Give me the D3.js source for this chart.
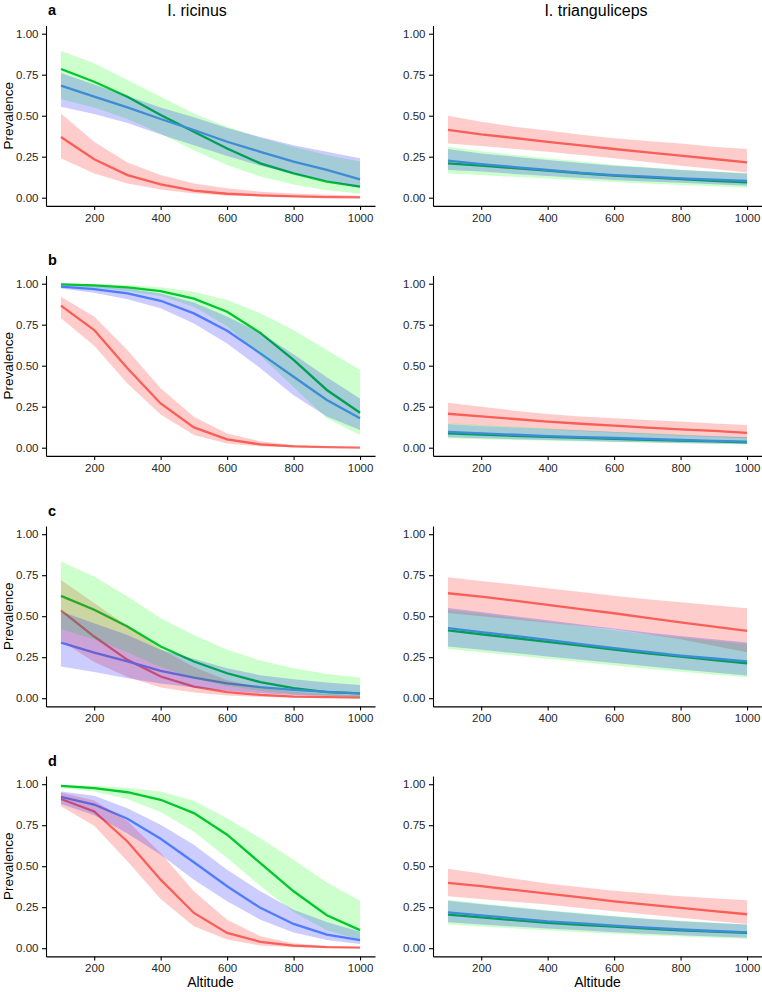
<!DOCTYPE html>
<meta charset="utf-8">
<title>Prevalence by altitude</title>
<style>

body {
  margin: 0;
  background: #fff;
}

text {
  font-family: "Liberation Sans", Arial, sans-serif;
}

.axis path,
.axis line {
  stroke: #000;
  stroke-width: 1.1px;
}

.axis text {
  fill: #262626;
  font-size: 11.5px;
}

</style>
<body>
  <script src="https://d3js.org/d3.v7.min.js"></script>
  <script>

  // ---- data ----
  const altitude = [100, 200, 300, 400, 500, 600, 700, 800, 900, 1000];
  const yTicks = [0, 0.25, 0.5, 0.75, 1];
  const xTicks = [200, 400, 600, 800, 1000];
  const rowLabels = ["a", "b", "c", "d"];
  const species = ["I. ricinus", "I. trianguliceps"];

  // panel a, I. ricinus
  const aRicRedFit = [0.37, 0.234, 0.138, 0.081, 0.043, 0.024, 0.014, 0.008, 0.004, 0.002];
  const aRicRedLo = [0.24, 0.148, 0.087, 0.05, 0.026, 0.014, 0.008, 0.004, 0.002, 0.001];
  const aRicRedHi = [0.514, 0.341, 0.215, 0.138, 0.087, 0.057, 0.037, 0.026, 0.018, 0.012];
  const aRicGreenFit = [0.785, 0.707, 0.616, 0.504, 0.402, 0.30, 0.209, 0.148, 0.098, 0.067];
  const aRicGreenLo = [0.60, 0.55, 0.48, 0.39, 0.29, 0.20, 0.13, 0.08, 0.045, 0.026];
  const aRicGreenHi = [0.896, 0.82, 0.717, 0.616, 0.514, 0.433, 0.365, 0.31, 0.26, 0.22];
  const aRicBlueFit = [0.683, 0.616, 0.551, 0.48, 0.413, 0.341, 0.28, 0.22, 0.169, 0.112];
  const aRicBlueLo = [0.555, 0.51, 0.455, 0.385, 0.32, 0.255, 0.195, 0.145, 0.10, 0.06];
  const aRicBlueHi = [0.76, 0.69, 0.62, 0.55, 0.49, 0.425, 0.37, 0.32, 0.28, 0.24];

  // panel a, I. trianguliceps
  const aTriRedFit = [0.413, 0.386, 0.364, 0.341, 0.319, 0.297, 0.276, 0.256, 0.236, 0.215];
  const aTriRedLo = [0.331, 0.315, 0.297, 0.28, 0.26, 0.24, 0.217, 0.195, 0.175, 0.154];
  const aTriRedHi = [0.50, 0.463, 0.433, 0.409, 0.384, 0.362, 0.345, 0.331, 0.311, 0.297];
  const aTriGreenFit = [0.209, 0.195, 0.18, 0.165, 0.149, 0.134, 0.124, 0.114, 0.103, 0.093];
  const aTriGreenLo = [0.148, 0.138, 0.127, 0.117, 0.106, 0.096, 0.087, 0.078, 0.07, 0.061];
  const aTriGreenHi = [0.31, 0.283, 0.26, 0.24, 0.22, 0.2, 0.185, 0.172, 0.16, 0.15];
  const aTriBlueFit = [0.226, 0.205, 0.187, 0.169, 0.152, 0.138, 0.128, 0.118, 0.11, 0.102];
  const aTriBlueLo = [0.169, 0.159, 0.145, 0.132, 0.12, 0.108, 0.099, 0.091, 0.082, 0.073];
  const aTriBlueHi = [0.297, 0.27, 0.25, 0.23, 0.212, 0.195, 0.182, 0.169, 0.158, 0.148];

  // panel b, I. ricinus
  const bRicRedFit = [0.866, 0.717, 0.484, 0.27, 0.124, 0.051, 0.02, 0.008, 0.003, 0.001];
  const bRicRedLo = [0.79, 0.622, 0.392, 0.203, 0.077, 0.026, 0.008, 0.002, 0.001, 0];
  const bRicRedHi = [0.92, 0.80, 0.596, 0.362, 0.189, 0.087, 0.039, 0.016, 0.007, 0.003];
  const bRicGreenFit = [0.996, 0.99, 0.978, 0.955, 0.909, 0.829, 0.70, 0.535, 0.352, 0.213];
  const bRicGreenLo = [0.99, 0.975, 0.955, 0.925, 0.86, 0.74, 0.56, 0.37, 0.18, 0.077];
  const bRicGreenHi = [0.999, 0.997, 0.992, 0.978, 0.951, 0.90, 0.82, 0.717, 0.596, 0.474];
  const bRicBlueFit = [0.982, 0.967, 0.941, 0.896, 0.819, 0.713, 0.575, 0.433, 0.291, 0.179];
  const bRicBlueLo = [0.97, 0.945, 0.905, 0.85, 0.758, 0.636, 0.484, 0.32, 0.19, 0.108];
  const bRicBlueHi = [0.99, 0.985, 0.97, 0.94, 0.885, 0.80, 0.70, 0.57, 0.43, 0.30];

  // panel b, I. trianguliceps
  const bTriRedFit = [0.207, 0.191, 0.175, 0.159, 0.146, 0.134, 0.122, 0.112, 0.102, 0.091];
  const bTriRedLo = [0.148, 0.134, 0.123, 0.112, 0.102, 0.093, 0.084, 0.075, 0.066, 0.057];
  const bTriRedHi = [0.274, 0.25, 0.226, 0.205, 0.191, 0.179, 0.169, 0.159, 0.148, 0.138];
  const bTriGreenFit = [0.087, 0.08, 0.073, 0.066, 0.06, 0.054, 0.048, 0.043, 0.038, 0.033];
  const bTriGreenLo = [0.058, 0.052, 0.047, 0.042, 0.038, 0.034, 0.03, 0.026, 0.023, 0.02];
  const bTriGreenHi = [0.15, 0.138, 0.127, 0.117, 0.107, 0.098, 0.089, 0.08, 0.072, 0.065];
  const bTriBlueFit = [0.096, 0.087, 0.079, 0.071, 0.065, 0.059, 0.053, 0.047, 0.042, 0.037];
  const bTriBlueLo = [0.063, 0.057, 0.052, 0.047, 0.042, 0.037, 0.033, 0.029, 0.025, 0.022];
  const bTriBlueHi = [0.144, 0.132, 0.123, 0.114, 0.105, 0.096, 0.086, 0.077, 0.07, 0.063];

  // panel c, I. ricinus
  const cRicRedFit = [0.535, 0.376, 0.234, 0.132, 0.071, 0.037, 0.02, 0.01, 0.006, 0.004];
  const cRicRedLo = [0.35, 0.22, 0.13, 0.065, 0.035, 0.017, 0.008, 0.004, 0.002, 0.001];
  const cRicRedHi = [0.72, 0.58, 0.44, 0.30, 0.19, 0.11, 0.065, 0.04, 0.025, 0.018];
  const cRicGreenFit = [0.624, 0.539, 0.437, 0.315, 0.224, 0.152, 0.098, 0.061, 0.037, 0.03];
  const cRicGreenLo = [0.42, 0.36, 0.28, 0.19, 0.12, 0.075, 0.045, 0.025, 0.015, 0.008];
  const cRicGreenHi = [0.833, 0.742, 0.62, 0.488, 0.386, 0.295, 0.23, 0.183, 0.148, 0.126];
  const cRicBlueFit = [0.339, 0.278, 0.224, 0.167, 0.126, 0.091, 0.067, 0.051, 0.039, 0.03];
  const cRicBlueLo = [0.193, 0.16, 0.122, 0.09, 0.065, 0.045, 0.03, 0.02, 0.015, 0.01];
  const cRicBlueHi = [0.528, 0.457, 0.386, 0.295, 0.24, 0.183, 0.14, 0.115, 0.095, 0.081];

  // panel c, I. trianguliceps
  const cTriRedFit = [0.64, 0.62, 0.595, 0.569, 0.543, 0.518, 0.49, 0.463, 0.437, 0.41];
  const cTriRedLo = [0.52, 0.50, 0.48, 0.46, 0.44, 0.42, 0.39, 0.36, 0.32, 0.28];
  const cTriRedHi = [0.738, 0.715, 0.693, 0.671, 0.647, 0.624, 0.604, 0.585, 0.567, 0.549];
  const cTriGreenFit = [0.413, 0.39, 0.367, 0.344, 0.32, 0.297, 0.274, 0.253, 0.233, 0.213];
  const cTriGreenLo = [0.30, 0.28, 0.26, 0.24, 0.22, 0.20, 0.18, 0.162, 0.145, 0.128];
  const cTriGreenHi = [0.54, 0.515, 0.49, 0.465, 0.44, 0.415, 0.39, 0.37, 0.35, 0.33];
  const cTriBlueFit = [0.427, 0.403, 0.38, 0.356, 0.33, 0.305, 0.282, 0.26, 0.242, 0.224];
  const cTriBlueLo = [0.315, 0.295, 0.275, 0.255, 0.235, 0.215, 0.195, 0.175, 0.156, 0.138];
  const cTriBlueHi = [0.55, 0.525, 0.50, 0.475, 0.45, 0.425, 0.40, 0.38, 0.36, 0.34];

  // panel d, I. ricinus
  const dRicRedFit = [0.91, 0.834, 0.651, 0.418, 0.215, 0.093, 0.039, 0.016, 0.007, 0.003];
  const dRicRedLo = [0.866, 0.746, 0.53, 0.30, 0.134, 0.053, 0.017, 0.006, 0.002, 0.001];
  const dRicRedHi = [0.95, 0.90, 0.775, 0.58, 0.347, 0.174, 0.073, 0.03, 0.013, 0.006];
  const dRicGreenFit = [0.99, 0.976, 0.951, 0.905, 0.824, 0.692, 0.519, 0.347, 0.201, 0.11];
  const dRicGreenLo = [0.975, 0.955, 0.91, 0.83, 0.71, 0.55, 0.38, 0.22, 0.11, 0.05];
  const dRicGreenHi = [0.995, 0.99, 0.978, 0.955, 0.899, 0.793, 0.671, 0.54, 0.40, 0.29];
  const dRicBlueFit = [0.923, 0.876, 0.789, 0.667, 0.524, 0.378, 0.246, 0.148, 0.083, 0.049];
  const dRicBlueLo = [0.88, 0.81, 0.70, 0.57, 0.418, 0.286, 0.174, 0.095, 0.05, 0.025];
  const dRicBlueHi = [0.955, 0.93, 0.854, 0.753, 0.631, 0.479, 0.347, 0.235, 0.16, 0.10];

  // panel d, I. trianguliceps
  const dTriRedFit = [0.398, 0.378, 0.355, 0.333, 0.31, 0.286, 0.266, 0.246, 0.226, 0.207];
  const dTriRedLo = [0.317, 0.30, 0.283, 0.266, 0.245, 0.225, 0.205, 0.185, 0.166, 0.148];
  const dTriRedHi = [0.485, 0.455, 0.423, 0.394, 0.372, 0.351, 0.334, 0.317, 0.304, 0.292];
  const dTriGreenFit = [0.205, 0.188, 0.171, 0.155, 0.143, 0.131, 0.12, 0.109, 0.101, 0.093];
  const dTriGreenLo = [0.144, 0.132, 0.12, 0.109, 0.098, 0.088, 0.079, 0.071, 0.064, 0.057];
  const dTriGreenHi = [0.295, 0.272, 0.252, 0.232, 0.214, 0.197, 0.181, 0.168, 0.156, 0.145];
  const dTriBlueFit = [0.219, 0.20, 0.182, 0.164, 0.151, 0.138, 0.126, 0.114, 0.105, 0.097];
  const dTriBlueLo = [0.158, 0.145, 0.132, 0.12, 0.109, 0.098, 0.088, 0.079, 0.071, 0.063];
  const dTriBlueHi = [0.29, 0.268, 0.248, 0.228, 0.21, 0.193, 0.178, 0.165, 0.154, 0.144];

  // panels[row][col] -> [red, green, blue] each as [fit, lo, hi]
  const panels = [
    [[[aRicRedFit, aRicRedLo, aRicRedHi], [aRicGreenFit, aRicGreenLo, aRicGreenHi], [aRicBlueFit, aRicBlueLo, aRicBlueHi]],
     [[aTriRedFit, aTriRedLo, aTriRedHi], [aTriGreenFit, aTriGreenLo, aTriGreenHi], [aTriBlueFit, aTriBlueLo, aTriBlueHi]]],
    [[[bRicRedFit, bRicRedLo, bRicRedHi], [bRicGreenFit, bRicGreenLo, bRicGreenHi], [bRicBlueFit, bRicBlueLo, bRicBlueHi]],
     [[bTriRedFit, bTriRedLo, bTriRedHi], [bTriGreenFit, bTriGreenLo, bTriGreenHi], [bTriBlueFit, bTriBlueLo, bTriBlueHi]]],
    [[[cRicRedFit, cRicRedLo, cRicRedHi], [cRicGreenFit, cRicGreenLo, cRicGreenHi], [cRicBlueFit, cRicBlueLo, cRicBlueHi]],
     [[cTriRedFit, cTriRedLo, cTriRedHi], [cTriGreenFit, cTriGreenLo, cTriGreenHi], [cTriBlueFit, cTriBlueLo, cTriBlueHi]]],
    [[[dRicRedFit, dRicRedLo, dRicRedHi], [dRicGreenFit, dRicGreenLo, dRicGreenHi], [dRicBlueFit, dRicBlueLo, dRicBlueHi]],
     [[dTriRedFit, dTriRedLo, dTriRedHi], [dTriGreenFit, dTriGreenLo, dTriGreenHi], [dTriBlueFit, dTriBlueLo, dTriBlueHi]]]
  ];

  // ---- layout ----
  const width = 762;
  const height = 992;
  const lineColors = ["#F8766D", "#00BA38", "#619CFF"];
  const ribbonColors = ["#FF0000", "#00FF00", "#0000FF"];
  const colLeft = [46, 433];
  const colRight = [375, 762];
  const rowTop = [25.5, 275.5, 526, 776];
  const plotH = 180.4;
  const titleX = [197, 596];

  const svg = d3.select("body").append("svg")
      .attr("width", width)
      .attr("height", height);

  panels.forEach((row, r) => {
    row.forEach((series, c) => {
      const x = d3.scaleLinear()
          .domain([55, 1045]) /* 5% padding around 100..1000 like ggplot */
          .range([colLeft[c], colRight[c]]);
      const y = d3.scaleLinear()
          .domain([-0.05, 1.05])
          .range([rowTop[r] + plotH, rowTop[r]]);

      const g = svg.append("g");

      const line = d3.line()
          .x((d, i) => x(altitude[i]))
          .y(d => y(d));

      // lines first, ribbons drawn over them
      series.forEach((s, k) => {
        g.append("path")
            .datum(s[0])
            .attr("d", line)
            .attr("fill", "none")
            .attr("stroke", lineColors[k])
            .attr("stroke-width", 2.3);
      });

      series.forEach((s, k) => {
        const area = d3.area()
            .x((d, i) => x(altitude[i]))
            .y0((d, i) => y(s[1][i]))
            .y1((d, i) => y(s[2][i]));
        g.append("path")
            .datum(s[0])
            .attr("d", area)
            .attr("fill", ribbonColors[k])
            .attr("fill-opacity", 0.2);
      });

      g.append("g")
          .attr("class", "axis")
          .attr("transform", "translate(" + colLeft[c] + ",0)")
          .call(d3.axisLeft(y).tickValues(yTicks).tickFormat(d3.format(".2f"))
            .tickSize(4).tickSizeOuter(0).tickPadding(3.5));

      g.append("g")
          .attr("class", "axis")
          .attr("transform", "translate(0," + (rowTop[r] + plotH) + ")")
          .call(d3.axisBottom(x).tickValues(xTicks).tickFormat(d3.format("d"))
            .tickSize(4).tickSizeOuter(0).tickPadding(3.5));

      if (c === 0) {
        svg.append("text")
            .attr("x", 48)
            .attr("y", rowTop[r] - 10.5)
            .attr("font-weight", "bold")
            .attr("font-size", "14.5px")
            .text(rowLabels[r]);

        svg.append("text")
            .attr("transform", "translate(12.5," + (rowTop[r] + plotH / 2) + ")rotate(-90)")
            .attr("text-anchor", "middle")
            .attr("font-size", "13.5px")
            .text("Prevalence");
      }

      if (r === 0) {
        svg.append("text")
            .attr("x", titleX[c])
            .attr("y", 15.5)
            .attr("text-anchor", "middle")
            .attr("font-size", "16px")
            .text(species[c]);
      }

      if (r === panels.length - 1) {
        svg.append("text")
            .attr("x", (colLeft[c] + colRight[c]) / 2)
            .attr("y", 986.5)
            .attr("text-anchor", "middle")
            .attr("font-size", "14px")
            .text("Altitude");
      }
    });
  });

  </script>
</body>
